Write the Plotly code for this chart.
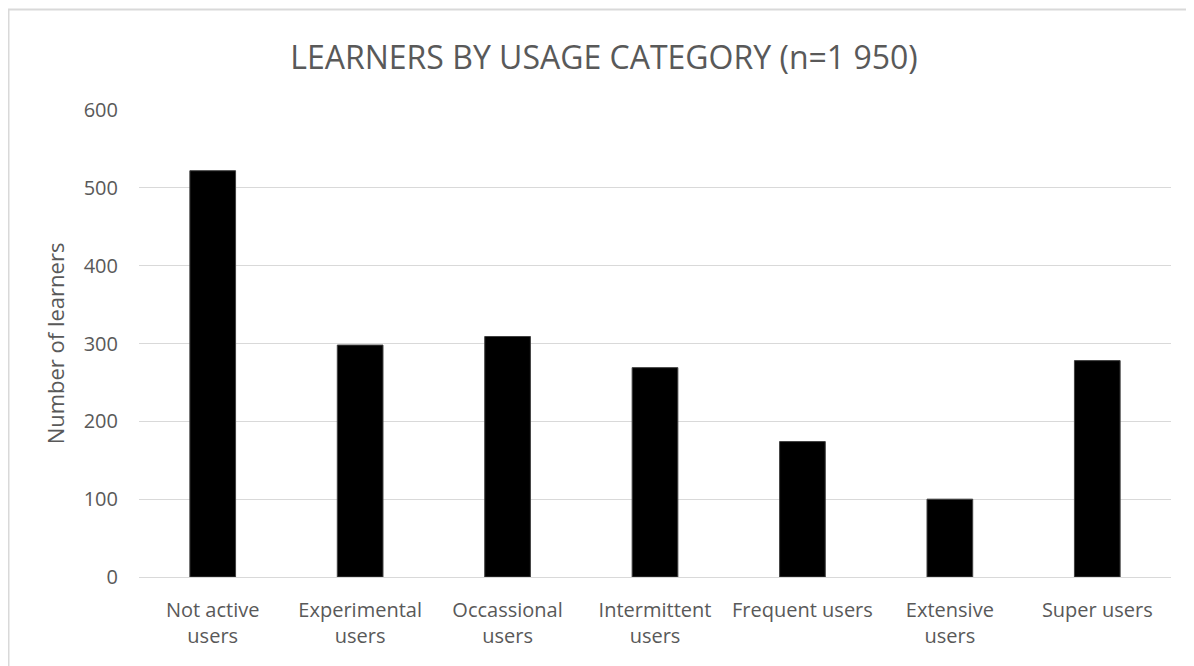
import plotly.graph_objects as go

categories = ["Not active users", "Experimental users", "Occassional users",
              "Intermittent users", "Frequent users", "Extensive users", "Super users"]
tick_labels = ["Not active<br>users", "Experimental<br>users", "Occassional<br>users",
               "Intermittent<br>users", "Frequent users", "Extensive<br>users", "Super users"]
learners = [522, 298, 309, 269, 174, 100, 278]
y_ticks = [0, 100, 200, 300, 400, 500, 600]

# the page body adds an 8px offset, so the figure is sized to fit the rest of the window
W, H = 1186, 658
L, R, T, B = 131, 23, 102, 89

fig = go.Figure()
fig.add_trace(go.Bar(
    x=categories, y=learners,
    marker=dict(color="#000000", line=dict(color="#404040", width=1)),
    width=0.31,
))

font_family = "Open Sans, Liberation Sans, sans-serif"
fig.update_layout(
    width=W, height=H,
    margin=dict(l=L, r=R, t=T, b=B, autoexpand=False),
    paper_bgcolor="white", plot_bgcolor="white",
    showlegend=False,
    title=dict(text="LEARNERS BY USAGE CATEGORY (n=1 950)",
               x=(604 - 8) / W, xref="container", xanchor="center",
               y=1 - 50 / H, yref="container", yanchor="middle",
               font=dict(family=font_family, size=32, color="#595959")),
    font=dict(family=font_family, color="#595959"),
    xaxis=dict(tickmode="array", tickvals=categories, ticktext=tick_labels,
               tickfont=dict(size=20, color="#595959"),
               showgrid=False, showline=True, linecolor="#d9d9d9", linewidth=1,
               ticks="", ticklabelstandoff=15, automargin=False),
    yaxis=dict(range=[0, 600], tickvals=y_ticks,
               tickfont=dict(size=20, color="#595959"),
               showgrid=True, gridcolor="#d9d9d9", gridwidth=1,
               zeroline=False, showline=False, ticks="", ticklabelstandoff=20,
               automargin=False,
               title=dict(text="Number of learners", standoff=12,
                          font=dict(size=22, color="#595959"))),
)

# outer chart border (light gray): only left and top edges are visible in the reference
pw, ph = W - L - R, H - T - B
bx0 = (0.5 - L) / pw
bx1 = (W + 40 - L) / pw
by0 = -(B + 40) / ph
by1 = 1 + (T - 1.5) / ph
fig.add_shape(type="path", xref="paper", yref="paper",
              path=f"M {bx0},{by0} L {bx0},{by1} L {bx1},{by1}",
              line=dict(color="#d9d9d9", width=2), layer="below")

fig.write_html("out.html")
